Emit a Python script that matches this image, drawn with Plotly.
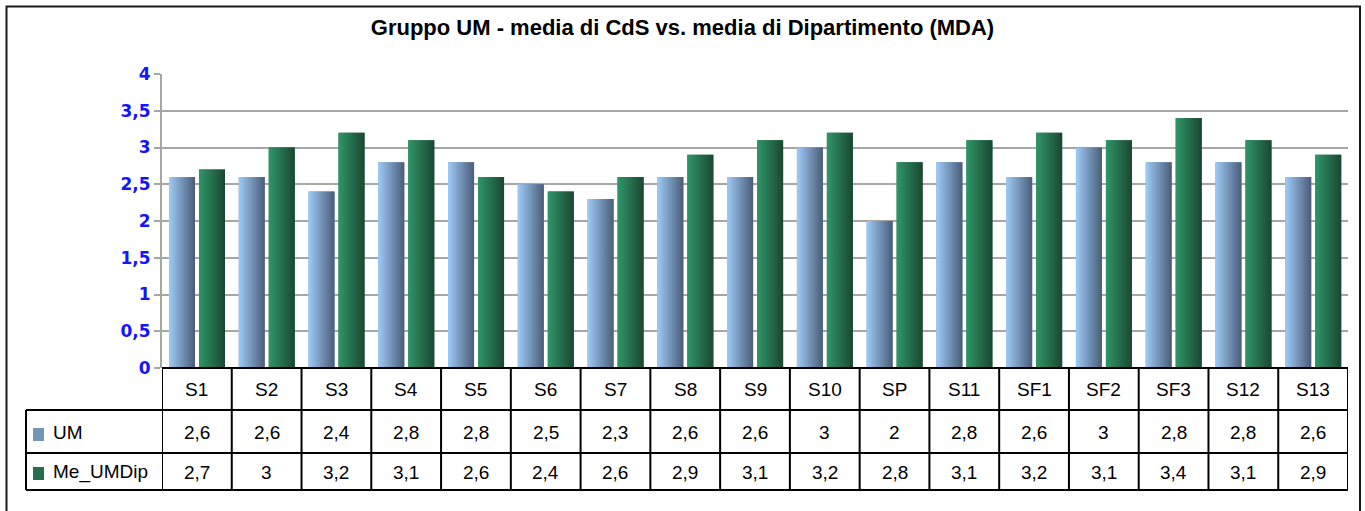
import plotly.graph_objects as go

categories = ["S1", "S2", "S3", "S4", "S5", "S6", "S7", "S8", "S9", "S10", "SP",
              "S11", "SF1", "SF2", "SF3", "S12", "S13"]
um_values = [2.6, 2.6, 2.4, 2.8, 2.8, 2.5, 2.3, 2.6, 2.6, 3, 2, 2.8, 2.6, 3, 2.8, 2.8, 2.6]
dip_values = [2.7, 3, 3.2, 3.1, 2.6, 2.4, 2.6, 2.9, 3.1, 3.2, 2.8, 3.1, 3.2, 3.1, 3.4, 3.1, 2.9]
series_names = ["UM", "Me_UMDip"]
title_text = "Gruppo UM - media di CdS vs. media di Dipartimento (MDA)"

UM_COLOR = "#7395b9"
DIP_COLOR = "#256e4d"
# light colour on the left edge, dark on the right edge
UM_GRAD = [[0, "#9ecbf7"], [1, "#4a5c79"]]
DIP_GRAD = [[0, "#2f9668"], [1, "#1a4731"]]
FONT = "Liberation Sans, Arial, sans-serif"

W, H = 1365, 511
L, R, T, B = 162, 17, 74, 143
PW, PH = W - L - R, H - T - B

BAR_W = 0.373
OFFSETS = [-0.40, 0.03]


def px(xp):
    return (xp - L) / PW


def py(yp):
    return (H - B - yp) / PH


xs = list(range(len(categories)))

fig = go.Figure()
series = [(um_values, UM_COLOR, UM_GRAD), (dip_values, DIP_COLOR, DIP_GRAD)]
for (vals, col, grad), name, off in zip(series, series_names, OFFSETS):
    fig.add_trace(go.Bar(x=xs, y=vals, name=name, width=BAR_W, offset=off,
                         marker=dict(color=col, line=dict(width=0)),
                         customdata=categories, hovertemplate="%{customdata}: %{y}<extra>" + name + "</extra>"))
# horizontal gradient shading over each bar, from the same values
for (vals, col, grad), name, off in zip(series, series_names, OFFSETS):
    for xi, v in zip(xs, vals):
        x0 = xi + off
        x1 = x0 + BAR_W
        fig.add_trace(go.Scatter(x=[x0, x1, x1, x0, x0], y=[0, 0, v, v, 0], mode="lines",
                                 fill="toself", line=dict(width=0),
                                 fillgradient=dict(type="horizontal", colorscale=grad),
                                 hoverinfo="skip", showlegend=False))

shapes = []
shapes.append(dict(type="rect", xref="paper", yref="paper",
                   x0=px(6.5), x1=px(1360), y0=py(530), y1=py(6.5),
                   line=dict(color="#1a1a1a", width=2), fillcolor="rgba(0,0,0,0)", layer="below"))
y_rows = [py(368), py(410), py(453), py(490)]
shapes.append(dict(type="line", xref="paper", yref="paper", x0=0, x1=1, y0=y_rows[0], y1=y_rows[0],
                   line=dict(color="black", width=2)))
for yy in y_rows[1:]:
    shapes.append(dict(type="line", xref="paper", yref="paper", x0=px(26), x1=1, y0=yy, y1=yy,
                       line=dict(color="black", width=2)))
shapes.append(dict(type="line", xref="paper", yref="paper", x0=px(26), x1=px(26),
                   y0=y_rows[1], y1=y_rows[3], line=dict(color="black", width=2)))
for k in range(len(categories) + 1):
    shapes.append(dict(type="line", xref="x", yref="paper", x0=k - 0.5, x1=k - 0.5,
                       y0=y_rows[0], y1=y_rows[3], line=dict(color="black", width=2)))
shapes.append(dict(type="rect", xref="paper", yref="paper", x0=px(33), x1=px(44),
                   y0=py(441), y1=py(428), fillcolor=UM_COLOR, line=dict(width=0)))
shapes.append(dict(type="rect", xref="paper", yref="paper", x0=px(33), x1=px(44),
                   y0=py(480), y1=py(467), fillcolor=DIP_COLOR, line=dict(width=0)))

annotations = []
row_y = [py(389.5), py(432), py(472)]
TFONT = dict(family=FONT, size=19, color="black")


def fmt(v):
    return ("%g" % v).replace(".", ",")


for xi, c, u, d in zip(xs, categories, um_values, dip_values):
    for yy, txt in zip(row_y, [c, fmt(u), fmt(d)]):
        annotations.append(dict(x=xi, y=yy, xref="x", yref="paper", text=txt, showarrow=False,
                                xanchor="center", yanchor="middle", font=TFONT))
for name, yy in zip(series_names, row_y[1:]):
    annotations.append(dict(x=px(51), y=yy, xref="paper", yref="paper", text=name, showarrow=False,
                            xanchor="left", yanchor="middle", font=TFONT))

fig.update_layout(
    width=W, height=H,
    margin=dict(l=L, r=R, t=T, b=B, autoexpand=False),
    paper_bgcolor="white", plot_bgcolor="white",
    separators=",.",
    showlegend=False,
    title=dict(text="<b>" + title_text + "</b>", x=0.5, xanchor="center", xref="container",
               y=1 - 27 / H, yanchor="middle", yref="container",
               font=dict(family=FONT, size=22, color="black")),
    xaxis=dict(type="linear", range=[-0.5, len(categories) - 0.5], showticklabels=False,
               showgrid=False, showline=False, zeroline=False, ticks=""),
    yaxis=dict(range=[0, 4], dtick=0.5, tick0=0, showgrid=True, gridcolor="#a6a6a6", gridwidth=2,
               showline=True, linecolor="#a6a6a6", linewidth=2, ticks="outside", ticklen=6,
               tickcolor="#a6a6a6", tickwidth=2, zeroline=False,
               tickfont=dict(family="DejaVu Sans, sans-serif", size=17, color="#1414ff", weight="bold")),
    shapes=shapes, annotations=annotations,
)

fig.write_html("out.html", config={"displayModeBar": False},
               post_script="document.body.style.margin='0';")
